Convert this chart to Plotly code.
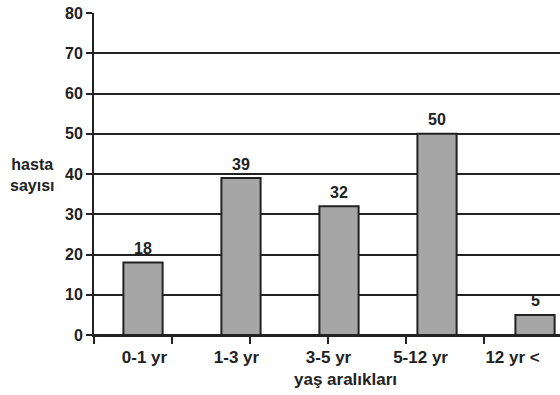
import plotly.graph_objects as go

# Patient counts by age group
age_groups = ["0-1 yr", "1-3 yr", "3-5 yr", "5-12 yr", "12 yr <"]
patients = [18, 39, 32, 50, 5]
y_ticks = [0, 10, 20, 30, 40, 50, 60, 70, 80]

FONT = "Liberation Sans, Arial, sans-serif"
INK = "#222222"

positions = list(range(len(age_groups)))
# category labels and separator tick marks use their own spacing along the axis
label_step = 0.939
label_pos = [0.015 + k * label_step for k in positions]
tick_step = 0.796
boundary_ticks = [-0.5 + k * tick_step for k in range(6)]

fig = go.Figure()
fig.add_trace(go.Bar(
    x=positions,
    y=patients,
    width=0.40,
    marker=dict(color="#a6a6a6", line=dict(color=INK, width=2)),
    hoverinfo="skip",
))

value_labels = [
    dict(text=f"<b>{v}</b>", x=p, y=v, xref="x", yref="y",
         xanchor="center", yanchor="middle", yshift=14, showarrow=False,
         font=dict(family=FONT, size=16, color=INK))
    for p, v in zip(positions, patients)
]

fig.update_layout(
    width=560,
    height=395,
    margin=dict(l=94, r=0, t=13, b=60),
    paper_bgcolor="white",
    plot_bgcolor="white",
    showlegend=False,
    font=dict(family=FONT, color=INK),
    xaxis=dict(
        range=[-0.5, 4.255],
        tickvals=label_pos,
        ticktext=[f"<b>{g}</b>" for g in age_groups],
        ticks="",
        ticklabelstandoff=6,
        tickfont=dict(family=FONT, size=17, color=INK),
        showgrid=False,
        zeroline=False,
        showline=True,
        linecolor=INK,
        linewidth=2,
        minor=dict(tickvals=boundary_ticks, ticks="outside", ticklen=7,
                   tickwidth=2, tickcolor=INK, showgrid=False),
    ),
    yaxis=dict(
        range=[0, 80],
        tickvals=y_ticks,
        ticktext=[f"<b>{t}</b>" for t in y_ticks],
        ticks="outside",
        ticklen=6,
        tickwidth=2,
        tickcolor=INK,
        tickfont=dict(family=FONT, size=16, color=INK),
        showgrid=True,
        gridcolor=INK,
        gridwidth=2,
        zeroline=True,
        zerolinecolor=INK,
        zerolinewidth=2,
        showline=True,
        linecolor=INK,
        linewidth=2,
    ),
    annotations=value_labels + [
        dict(text="<b>hasta<br>sayısı</b>", xref="paper", yref="paper",
             x=-0.134, y=0.498, xanchor="center", yanchor="middle",
             showarrow=False, font=dict(family=FONT, size=16, color=INK)),
        dict(text="<b>yaş aralıkları</b>", xref="paper", yref="paper",
             x=0.54, y=-0.138, xanchor="center", yanchor="middle",
             showarrow=False, font=dict(family=FONT, size=17, color=INK)),
    ],
)

fig.write_html("out.html")
